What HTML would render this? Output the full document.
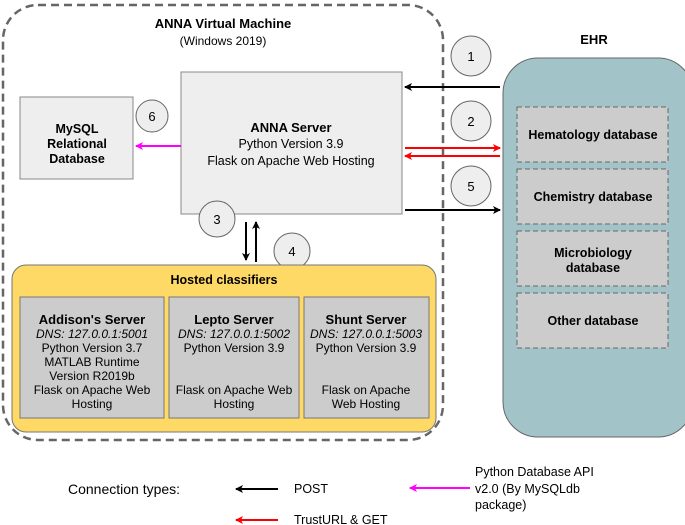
<!DOCTYPE html>
<html><head><style>body{margin:0;background:#fff}svg{display:block;font-family:"Liberation Sans",Arial,sans-serif}</style></head><body>
<svg width="685" height="525" viewBox="0 0 685 525" xmlns="http://www.w3.org/2000/svg">
<defs>
<marker id="ak" markerWidth="8" markerHeight="8" refX="7" refY="4" orient="auto" markerUnits="userSpaceOnUse"><path d="M0,0 L8,4 L0,8 L2,4z" fill="#000"/></marker>
<marker id="ar" markerWidth="8" markerHeight="8" refX="7" refY="4" orient="auto" markerUnits="userSpaceOnUse"><path d="M0,0 L8,4 L0,8 L2,4z" fill="#f00"/></marker>
<marker id="am" markerWidth="8" markerHeight="8" refX="7" refY="4" orient="auto" markerUnits="userSpaceOnUse"><path d="M0,0 L8,4 L0,8 L2,4z" fill="#f0f"/></marker>
</defs>
<rect x="3" y="5" width="440" height="435" rx="35" fill="#fff" stroke="#666" stroke-width="2.5" stroke-dasharray="8,5"/>
<text x="223" y="28" text-anchor="middle" font-size="13" font-weight="bold">ANNA Virtual Machine</text>
<text x="223" y="45" text-anchor="middle" font-size="12">(Windows 2019)</text>
<rect x="181" y="72" width="221" height="142" fill="#eee" stroke="#888"/>
<text x="291" y="132" text-anchor="middle" font-size="13" font-weight="bold">ANNA Server</text>
<text x="291" y="148" text-anchor="middle" font-size="12.5">Python Version 3.9</text>
<text x="291" y="165" text-anchor="middle" font-size="12.5">Flask on Apache Web Hosting</text>
<rect x="20" y="97" width="113" height="82" fill="#eee" stroke="#888"/>
<text x="77" y="133" text-anchor="middle" font-size="12.5" font-weight="bold">MySQL</text>
<text x="77" y="148" text-anchor="middle" font-size="12.5" font-weight="bold">Relational</text>
<text x="77" y="163" text-anchor="middle" font-size="12.5" font-weight="bold">Database</text>
<line x1="181" y1="146" x2="136" y2="146" stroke="#f0f" stroke-width="2" marker-end="url(#am)"/>
<g fill="#eee" stroke="#666" stroke-width="1"><circle cx="152" cy="116" r="16"/><circle cx="471" cy="56" r="20"/><circle cx="471" cy="121" r="20"/><circle cx="471" cy="186" r="20"/><circle cx="217" cy="219" r="18"/><circle cx="292" cy="251" r="18"/></g>
<g font-size="13" text-anchor="middle"><text x="152" y="121">6</text><text x="471" y="61">1</text><text x="471" y="126">2</text><text x="471" y="191">5</text><text x="217" y="224">3</text><text x="292" y="256">4</text></g>
<line x1="246" y1="222" x2="246" y2="260" stroke="#000" stroke-width="2" marker-end="url(#ak)"/>
<line x1="256" y1="262" x2="256" y2="222" stroke="#000" stroke-width="2" marker-end="url(#ak)"/>
<rect x="12" y="265" width="424" height="167" rx="14" fill="#fed966" stroke="#777"/>
<text x="224" y="284" text-anchor="middle" font-size="12.5" font-weight="bold">Hosted classifiers</text>
<g fill="#ccc" stroke="#777"><rect x="20" y="297" width="144" height="121"/><rect x="169" y="297" width="130" height="121"/><rect x="304" y="297" width="125" height="121"/></g>
<g font-size="12" text-anchor="middle">
<text x="92" y="324" font-weight="bold" font-size="13">Addison's Server</text>
<text x="92" y="338" font-style="italic">DNS: 127.0.0.1:5001</text>
<text x="92" y="352">Python Version 3.7</text><text x="92" y="366">MATLAB Runtime</text><text x="92" y="380">Version R2019b</text><text x="92" y="394">Flask on Apache Web</text><text x="92" y="408">Hosting</text>
<text x="234" y="324" font-weight="bold" font-size="13">Lepto Server</text>
<text x="234" y="338" font-style="italic">DNS: 127.0.0.1:5002</text>
<text x="234" y="352">Python Version 3.9</text><text x="234" y="394">Flask on Apache Web</text><text x="234" y="408">Hosting</text>
<text x="366" y="324" font-weight="bold" font-size="13">Shunt Server</text>
<text x="366" y="338" font-style="italic">DNS: 127.0.0.1:5003</text>
<text x="366" y="352">Python Version 3.9</text><text x="366" y="394">Flask on Apache</text><text x="366" y="408">Web Hosting</text>
</g>
<text x="594" y="44" text-anchor="middle" font-size="13" font-weight="bold">EHR</text>
<rect x="503" y="58" width="190" height="379" rx="35" fill="#a2c4c9" stroke="#666"/>
<g fill="#ccc" stroke="#666" stroke-dasharray="5,3"><rect x="517" y="107" width="151" height="55"/><rect x="517" y="169" width="151" height="55"/><rect x="517" y="231" width="151" height="55"/><rect x="517" y="293" width="151" height="55"/></g>
<g font-size="12.5" font-weight="bold" text-anchor="middle">
<text x="593" y="139">Hematology database</text><text x="593" y="201">Chemistry database</text><text x="593" y="257">Microbiology</text><text x="593" y="272">database</text><text x="593" y="325">Other database</text></g>
<line x1="500" y1="87" x2="405" y2="87" stroke="#000" stroke-width="2" marker-end="url(#ak)"/>
<line x1="405" y1="148" x2="500" y2="148" stroke="#f00" stroke-width="2" marker-end="url(#ar)"/>
<line x1="500" y1="156" x2="405" y2="156" stroke="#f00" stroke-width="2" marker-end="url(#ar)"/>
<line x1="405" y1="210" x2="500" y2="210" stroke="#000" stroke-width="2" marker-end="url(#ak)"/>
<text x="68" y="494" font-size="14">Connection types:</text>
<line x1="278" y1="489" x2="236" y2="489" stroke="#000" stroke-width="2" marker-end="url(#ak)"/>
<text x="294" y="493" font-size="12.5">POST</text>
<line x1="278" y1="520" x2="236" y2="520" stroke="#f00" stroke-width="2" marker-end="url(#ar)"/>
<text x="294" y="524" font-size="12.5">TrustURL &amp; GET</text>
<line x1="470" y1="488" x2="410" y2="488" stroke="#f0f" stroke-width="2" marker-end="url(#am)"/>
<g font-size="12.5"><text x="475" y="476">Python Database API</text><text x="475" y="493">v2.0 (By MySQLdb</text><text x="475" y="509">package)</text></g>
</svg>
</body></html>
